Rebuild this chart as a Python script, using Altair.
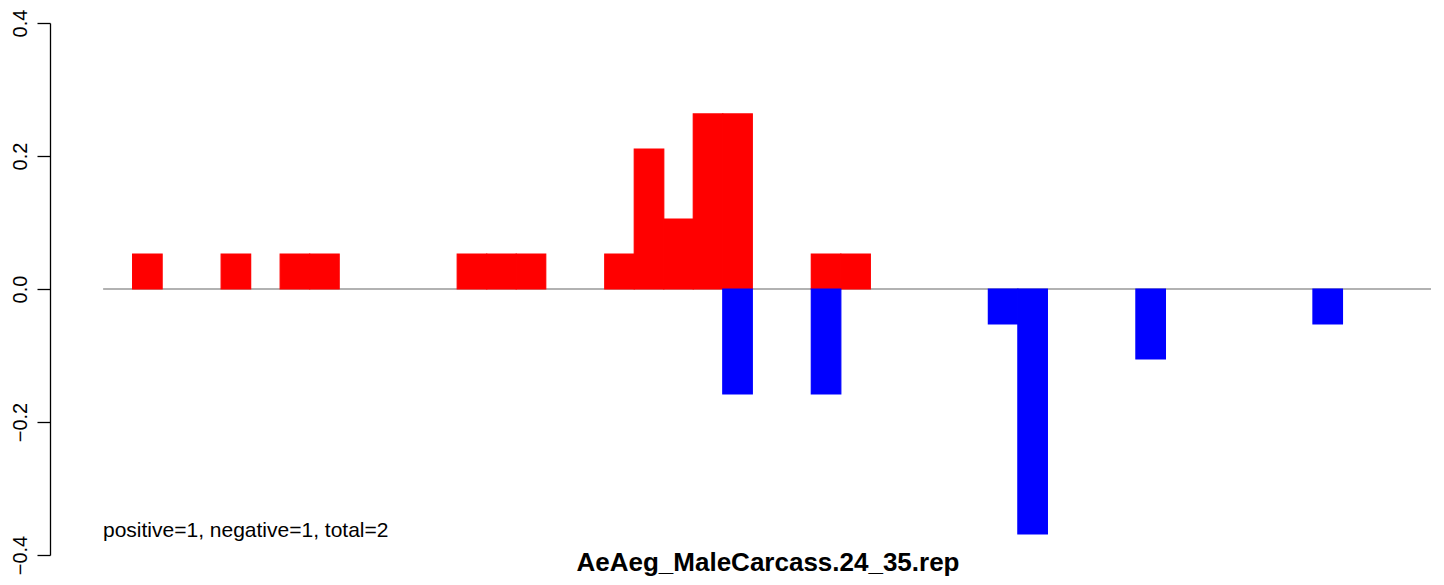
import altair as alt
import pandas as pd

# ---- data ----
pos_slots = [1, 4, 6, 7, 12, 13, 14, 17, 18, 19, 20, 21, 24, 25]
pos_values = [0.0526, 0.0526, 0.0526, 0.0526, 0.0526, 0.0526, 0.0526,
              0.0526, 0.2105, 0.1053, 0.2632, 0.2632, 0.0526, 0.0526]
neg_slots = [21, 24, 30, 31, 35, 41]
neg_values = [-0.1579, -0.1579, -0.0526, -0.3684, -0.1053, -0.0526]
n_slots = 45
y_ticks = [-0.4, -0.2, 0.0, 0.2, 0.4]
title_text = "AeAeg_MaleCarcass.24_35.rep"
note_text = "positive=1, negative=1, total=2"

bars = pd.DataFrame({
    "slot": pos_slots + neg_slots,
    "value": pos_values + neg_values,
    "sign": ["positive"] * len(pos_slots) + ["negative"] * len(neg_slots),
})
baseline = pd.DataFrame({"start": [0], "end": [n_slots], "zero": [0.0]})

FONT = "Liberation Sans"
W, H = 1386, 532

xscale = alt.Scale(domain=[-1.8, 45.17], nice=False, zero=False)
yscale = alt.Scale(domain=[-0.4, 0.4], nice=False)
cscale = alt.Scale(domain=["positive", "negative"], range=["#FF0000", "#0000FF"])

yaxis = alt.Axis(
    values=y_ticks, format=".1f", grid=False, title=None,
    domainColor="black", domainWidth=1.3, tickColor="black", tickWidth=1.3,
    tickSize=13, labelAngle=270, labelAlign="center", labelBaseline="alphabetic",
    labelPadding=11, labelFont=FONT, labelFontSize=20, labelColor="black",
    labelFlush=False, labelOverlap=False, labelBound=False,
)

zero_line = alt.Chart(baseline).mark_rule(color="#999999", strokeWidth=1.5).encode(
    x=alt.X("start:Q", scale=xscale, axis=None),
    x2="end:Q",
    y=alt.Y("zero:Q", scale=yscale, axis=yaxis),
)

rects = alt.Chart(bars).transform_calculate(
    slot_end="datum.slot + 1", base="0"
).mark_rect(strokeWidth=1.2).encode(
    x=alt.X("slot:Q", scale=xscale, axis=None),
    x2="slot_end:Q",
    y=alt.Y("value:Q", scale=yscale, axis=yaxis),
    y2="base:Q",
    color=alt.Color("sign:N", scale=cscale, legend=None),
    stroke=alt.Stroke("sign:N", scale=cscale, legend=None),
)

note = alt.Chart(pd.DataFrame({"t": [note_text]})).mark_text(
    align="left", baseline="alphabetic", font=FONT, fontSize=21, color="black"
).encode(x=alt.value(53), y=alt.value(514), text="t:N")

title = alt.Chart(pd.DataFrame({"t": [title_text]})).mark_text(
    align="center", baseline="alphabetic", font=FONT, fontSize=26,
    fontWeight="bold", color="black"
).encode(x=alt.value(718), y=alt.value(548), text="t:N")

chart = alt.layer(zero_line, rects, note, title).properties(
    width=W, height=H,
    background="white",
    autosize=alt.AutoSizeParams(type="none"),
    padding={"left": 42, "top": 15, "right": 0, "bottom": 22},
).configure_view(strokeWidth=0, stroke="transparent")

chart.save("out.html", embed_options={"renderer": "svg", "actions": False})
